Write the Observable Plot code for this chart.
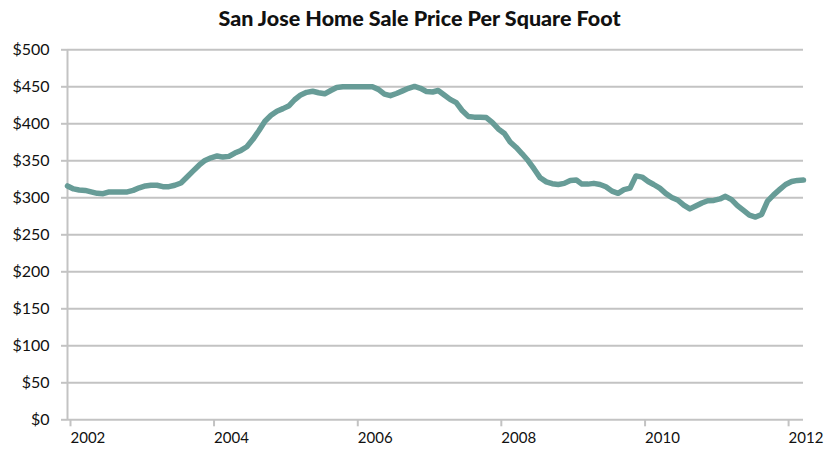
<!DOCTYPE html>
<html>
<head>
<meta charset="utf-8">
<script src="https://cdn.jsdelivr.net/npm/d3@7"></script>
<script src="https://cdn.jsdelivr.net/npm/@observablehq/plot@0.6"></script>
<style>
  body { margin: 0; background: #fff; font-family: Lato, "Open Sans", sans-serif; }
  #title { height: 36px; line-height: 36px; text-align: center; font-weight: 900; font-size: 21.5px; color: #111; padding-left: 4px; }
  #chart svg { display: block; }
</style>
</head>
<body>
<div id="title">San Jose Home Sale Price Per Square Foot</div>
<div id="chart"></div>
<script>
// Monthly sale price per sq ft, Jan 2002 – Apr 2012
const startYear = 2002;
const prices = [
  316, 312, 310.5, 310, 308, 306, 305.5, 308, 308, 308, 308, 310,        // 2002
  313.5, 316, 317, 317, 315, 315, 317, 320, 328, 336, 344, 350.5,        // 2003
  354, 356.5, 355, 356, 360.5, 364, 369, 379, 391, 403.5, 411.5, 417,    // 2004
  420.5, 424.5, 432.5, 439, 442.5, 444, 442, 440.5, 445, 449, 450, 450,  // 2005
  450, 450, 450, 450, 446.5, 440, 438, 441, 444.5, 448, 450.5, 448,      // 2006
  443.5, 443, 445, 439, 433, 428.5, 418, 410, 409, 409, 408.5, 402,      // 2007
  393, 387, 375.5, 368, 359.5, 350, 339, 327, 321.5, 319, 318, 319.5,    // 2008
  323.5, 324, 318.5, 318.5, 319.5, 318, 315, 309, 306, 311, 313, 329.6,  // 2009
  328, 322, 318, 313, 306, 300.5, 297, 290, 285, 289, 293, 296,          // 2010
  296.5, 298.5, 302, 297.5, 289.5, 283, 276.5, 274, 277.5, 295.5, 304, 311, // 2011
  318, 322, 323.5, 324                                                   // 2012
];
const yTicks = [0, 50, 100, 150, 200, 250, 300, 350, 400, 450, 500];
const yearTicks = [2002, 2004, 2006, 2008, 2010, 2012];

const data = prices.map((v, i) => ({date: new Date(Date.UTC(startYear, i, 1)), price: v}));
const tickDates = yearTicks.map(y => new Date(Date.UTC(y, 0, 1)));

const gridColor = "#c3c3c3";

const chart = Plot.plot({
  width: 835,
  height: 418,
  marginTop: 13.3,
  marginBottom: 34.7,
  marginLeft: 67,
  marginRight: 32,
  style: {fontFamily: "Lato, 'Open Sans', sans-serif", fontSize: "16px", color: "#111", background: "#fff"},
  x: {type: "utc", domain: [data[0].date, data[data.length - 1].date]},
  y: {domain: [0, 500]},
  marks: [
    Plot.gridY(yTicks, {stroke: gridColor, strokeOpacity: 1, strokeWidth: 2}),
    Plot.ruleX([data[0].date], {stroke: gridColor, strokeWidth: 2}),
    Plot.axisY(yTicks, {
      tickFormat: d => "$" + d,
      tickSize: 6, tickPadding: 12,
      stroke: gridColor, strokeWidth: 2,
      fill: "#111", label: null
    }),
    Plot.axisX(tickDates, {
      tickFormat: d => String(d.getUTCFullYear()),
      tickSize: 7, tickPadding: 6,
      textAnchor: "start", dx: 3,
      fontSize: 15,
      stroke: gridColor, strokeWidth: 2,
      fill: "#111", label: null
    }),
    Plot.line(data, {
      x: "date", y: "price",
      stroke: "#679c97", strokeWidth: 5.5,
      strokeLinejoin: "round", strokeLinecap: "round"
    })
  ]
});
document.getElementById("chart").appendChild(chart);
</script>
</body>
</html>
